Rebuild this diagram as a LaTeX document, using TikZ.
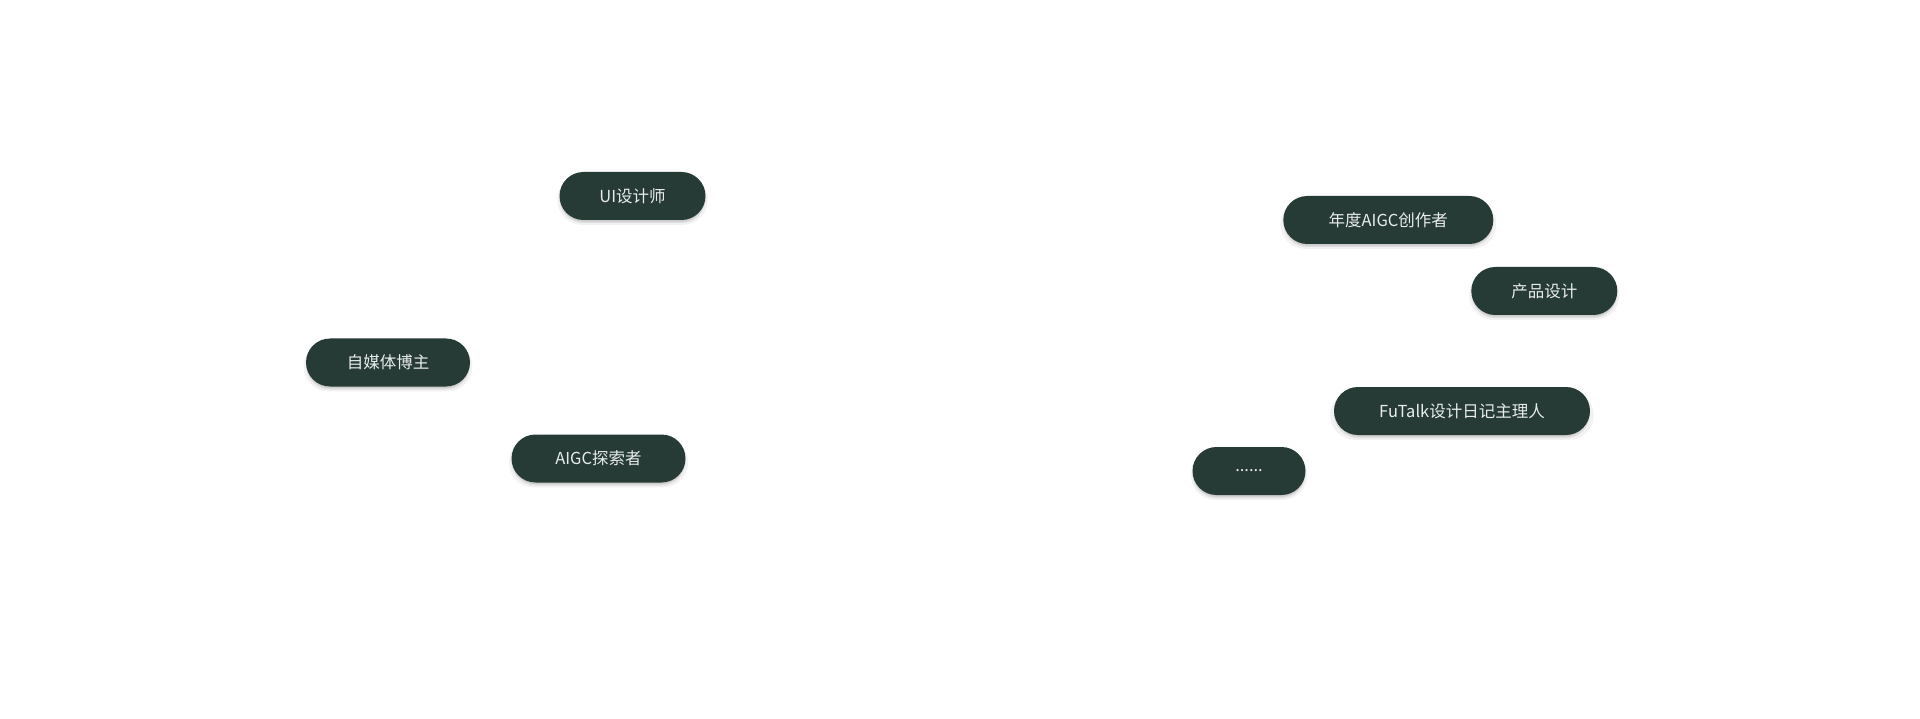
\documentclass[tikz,border=0pt]{standalone}
\usepackage{fontspec}
\setmainfont{Noto Sans CJK SC}
\usetikzlibrary{shadows}
\definecolor{pillbg}{HTML}{263B36}
\definecolor{pilltext}{HTML}{E8ECEA}
\tikzset{
  pill/.style={rectangle, rounded corners=24pt, fill=pillbg, text=pilltext,
    minimum height=48pt, inner sep=0pt, font=\fontsize{16.5pt}{18pt}\selectfont,
    general shadow={shadow yshift=-4pt, fill=black, opacity=0.05, shadow scale=1.03},
    general shadow={shadow yshift=-3pt, fill=black, opacity=0.08},
    general shadow={shadow yshift=-2pt, fill=black, opacity=0.08, shadow scale=0.99}}
}
\begin{document}
\begin{tikzpicture}[x=1pt,y=-1pt]
\useasboundingbox[fill=white] (0,0) rectangle (1920,719);
\node[pill, minimum width=146pt] (ui) at (632.5,196) {UI设计师};
\node[pill, minimum width=164pt] (zmt) at (388,362.5) {自媒体博主};
\node[pill, minimum width=174pt] (aigc) at (598.5,458.5) {AIGC探索者};
\node[pill, minimum width=210pt] (nd) at (1388.3,220) {年度AIGC创作者};
\node[pill, minimum width=146pt] (cp) at (1544.3,291) {产品设计};
\node[pill, minimum width=256pt] (fu) at (1462,411) {FuTalk设计日记主理人};
\node[pill, minimum width=113pt] (dots) at (1249,471) {......};
\end{tikzpicture}
\end{document}
